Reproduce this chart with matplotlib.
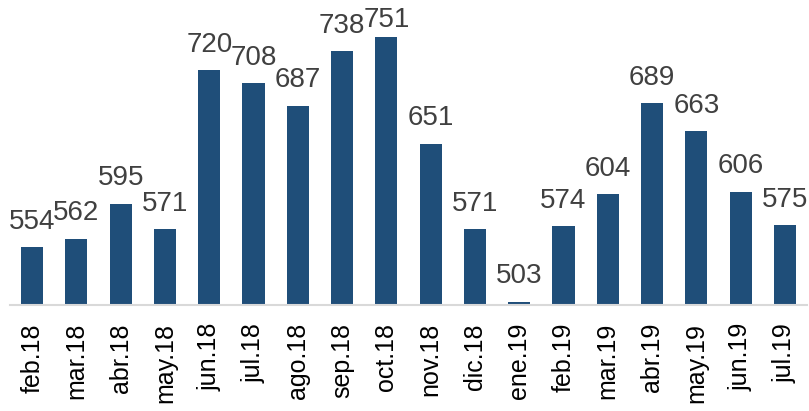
import matplotlib
matplotlib.use('Agg')
import matplotlib.pyplot as plt

meses = ['feb.18', 'mar.18', 'abr.18', 'may.18', 'jun.18', 'jul.18', 'ago.18', 'sep.18', 'oct.18',
         'nov.18', 'dic.18', 'ene.19', 'feb.19', 'mar.19', 'abr.19', 'may.19', 'jun.19', 'jul.19']
valores = [554, 562, 595, 571, 720, 708, 687, 738, 751, 651, 571, 503, 574, 604, 689, 663, 606, 575]

plt.rcParams['font.family'] = ['Liberation Sans', 'DejaVu Sans']

fig = plt.figure(figsize=(8.09, 4.11), dpi=100)
ax = fig.add_axes([10 / 809, (411 - 305) / 411, 797 / 809, 305 / 411])

x = range(len(valores))
ax.bar(x, valores, width=0.5, color='#1F4E79')
ax.set_ylim(500, 786)
ax.set_xlim(-0.5, len(valores) - 0.5)

# etiquetas de valor sobre cada barra (la más alta se baja para que quepa)
vmax = max(valores)
for i, v in enumerate(valores):
    dy = 3 if v == vmax else 9
    ax.annotate(str(v), (i, v), xytext=(0, dy), textcoords='offset points',
                ha='center', va='bottom', fontsize=20, color='#404040',
                annotation_clip=False)

ax.set_xticks(list(x))
ax.set_xticklabels(meses, rotation=90, fontsize=18, color='#000000')
ax.tick_params(axis='x', length=0, pad=13)
ax.set_yticks([])
for s in ['top', 'left', 'right']:
    ax.spines[s].set_visible(False)
ax.spines['bottom'].set_color('#D9D9D9')
ax.spines['bottom'].set_linewidth(1.5)

fig.savefig('out.png', dpi=100)
